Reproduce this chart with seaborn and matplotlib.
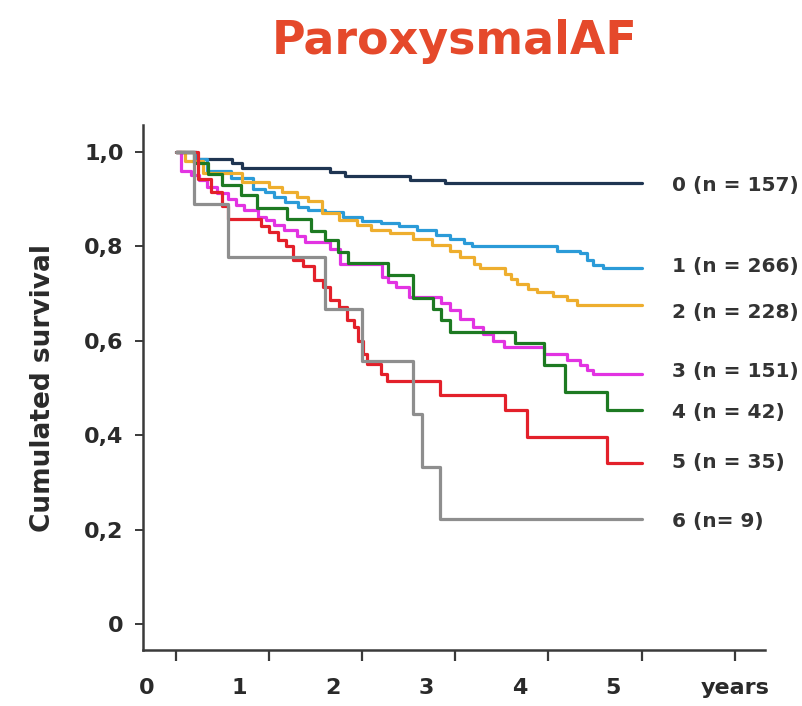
import numpy as np
import pandas as pd
import seaborn as sns
import matplotlib.pyplot as plt
from matplotlib.transforms import ScaledTranslation

# ---------------- data ----------------
groups = ["0 (n = 157)", "1 (n = 266)", "2 (n = 228)", "3 (n = 151)",
          "4 (n = 42)", "5 (n = 35)", "6 (n= 9)"]
label_y = [0.929, 0.756, 0.659, 0.534, 0.447, 0.343, 0.218]
follow_up_end = 5.0

t0 = [0, 0.22, 0.61, 0.71, 1.66, 1.82, 2.52, 2.89]
s0 = [1.0, 0.984, 0.975, 0.966, 0.958, 0.949, 0.941, 0.933]

t1 = [0, 0.22, 0.34, 0.6, 0.83, 0.96, 1.06, 1.17, 1.31, 1.42, 1.6, 1.8, 2.0,
      2.2, 2.4, 2.59, 2.8, 2.95, 3.09, 3.18, 4.09, 4.34, 4.42, 4.48, 4.59]
s1 = [1.0, 0.985, 0.96, 0.944, 0.922, 0.915, 0.905, 0.894, 0.883, 0.876, 0.883,
      0.862, 0.853, 0.848, 0.843, 0.834, 0.823, 0.815, 0.806, 0.80, 0.79, 0.785,
      0.77, 0.76, 0.753]
s1[10] = 0.872

t2 = [0, 0.1, 0.3, 0.71, 1.0, 1.14, 1.3, 1.42, 1.57, 1.75, 1.95, 2.1, 2.3, 2.55,
      2.75, 2.95, 3.05, 3.2, 3.27, 3.54, 3.6, 3.66, 3.78, 3.88, 4.05, 4.2, 4.31]
s2 = [1.0, 0.98, 0.955, 0.935, 0.925, 0.915, 0.905, 0.895, 0.870, 0.855, 0.845,
      0.834, 0.827, 0.816, 0.803, 0.79, 0.777, 0.763, 0.753, 0.74, 0.73, 0.72,
      0.71, 0.703, 0.695, 0.685, 0.675]

t3 = [0, 0.06, 0.17, 0.25, 0.34, 0.45, 0.56, 0.65, 0.74, 0.88, 0.97, 1.06, 1.16,
      1.3, 1.39, 1.66, 1.76, 2.22, 2.28, 2.37, 2.51, 2.85, 2.95, 3.05, 3.19,
      3.3, 3.41, 3.52, 3.95, 4.2, 4.34, 4.41, 4.48]
s3 = [1.0, 0.96, 0.95, 0.94, 0.926, 0.913, 0.90, 0.888, 0.876, 0.862, 0.855,
      0.845, 0.835, 0.822, 0.809, 0.795, 0.763, 0.735, 0.725, 0.714, 0.693,
      0.68, 0.664, 0.645, 0.629, 0.615, 0.60, 0.586, 0.572, 0.558, 0.548,
      0.538, 0.53]

t4 = [0, 0.2, 0.35, 0.5, 0.7, 0.87, 1.2, 1.45, 1.6, 1.74, 1.85, 2.28, 2.55,
      2.76, 2.85, 2.95, 3.64, 3.95, 4.18, 4.63]
s4 = [1.0, 0.976, 0.952, 0.929, 0.908, 0.881, 0.857, 0.833, 0.813, 0.788,
      0.765, 0.738, 0.69, 0.667, 0.643, 0.619, 0.595, 0.548, 0.491, 0.454]

t5 = [0, 0.24, 0.38, 0.5, 0.56, 0.92, 1.0, 1.1, 1.19, 1.26, 1.37, 1.49, 1.58,
      1.66, 1.75, 1.84, 1.91, 1.96, 2.01, 2.05, 2.2, 2.27, 2.84, 3.54, 3.77, 4.63]
s5 = [1.0, 0.943, 0.914, 0.886, 0.857, 0.843, 0.829, 0.814, 0.80, 0.771, 0.757,
      0.729, 0.714, 0.686, 0.671, 0.643, 0.629, 0.60, 0.571, 0.551, 0.529,
      0.514, 0.484, 0.454, 0.396, 0.34]

t6 = [0, 0.2, 0.56, 1.6, 2.0, 2.55, 2.64, 2.84]
s6 = [1.0, 0.889, 0.778, 0.667, 0.556, 0.444, 0.333, 0.222]

colors = ["#1f3552", "#2b9bd8", "#eeae2e", "#e233e2", "#1d7a22", "#e3202a", "#8e8e8e"]

x_ticks = [0, 1, 2, 3, 4, 5, 6]
x_ticklabels = ["0", "1", "2", "3", "4", "5", "years"]
y_ticks = [0, 0.2, 0.4, 0.6, 0.8, 1.0]
y_ticklabels = ["0", "0,2", "0,4", "0,6", "0,8", "1,0"]

# ---------------- build table ----------------
times = [t0, t1, t2, t3, t4, t5, t6]
survs = [s0, s1, s2, s3, s4, s5, s6]
rows = []
for g, t, s in zip(groups, times, survs):
    tt = list(t) + [follow_up_end]
    ss = list(s) + [s[-1]]
    for a, b in zip(tt, ss):
        rows.append({"group": g, "years": a, "survival": b})
df = pd.DataFrame(rows)

# ---------------- plot ----------------
sns.set_style("white")
plt.rcParams["font.family"] = ["DejaVu Sans"]

fig = plt.figure(figsize=(8.03, 7.06), dpi=100)
ax = fig.add_axes([143 / 803, 1 - 650 / 706, (765 - 143) / 803, (650 - 125) / 706])

sns.lineplot(data=df, x="years", y="survival", hue="group",
             hue_order=groups, palette=colors, estimator=None, sort=False,
             drawstyle="steps-post", linewidth=2.3, legend=False, ax=ax)

ax.set_xlim(-0.349, 6.325)
ax.set_ylim(-0.055, 1.0565)

for sp in ["top", "right"]:
    ax.spines[sp].set_visible(False)
for sp in ["left", "bottom"]:
    ax.spines[sp].set_color("#3a3a3a")
    ax.spines[sp].set_linewidth(1.8)

ax.set_xticks(x_ticks)
ax.set_xticklabels(x_ticklabels, fontsize=16, fontweight="bold", color="#2a2a2a")
ax.set_yticks(y_ticks)
ax.set_yticklabels(y_ticklabels, fontsize=16, fontweight="bold", color="#2a2a2a")
ax.tick_params(axis="x", bottom=True, direction="out", length=8, width=1.6,
               color="#3a3a3a", pad=12)
ax.tick_params(axis="y", left=True, direction="out", length=6, width=1.4,
               color="#3a3a3a", pad=8)

# shift numeric x labels left (as in reference)
offset = ScaledTranslation(-0.29, 0, fig.dpi_scale_trans)
for lab in ax.get_xticklabels()[:-1]:
    lab.set_transform(lab.get_transform() + offset)

ax.set_xlabel("")
ax.set_ylabel("Cumulated survival", fontsize=19, fontweight="bold",
              color="#2a2a2a", labelpad=20)

for g, y in zip(groups, label_y):
    ax.text(5.33, y, g, ha="left", va="center", fontsize=14.5,
            fontweight="bold", color="#333333", clip_on=False)

fig.text(455 / 803, 1 - 42 / 706, "ParoxysmalAF", ha="center", va="center",
         fontsize=33, fontweight="bold", color="#e5492b")

fig.savefig("out.png", dpi=100, facecolor="white")
